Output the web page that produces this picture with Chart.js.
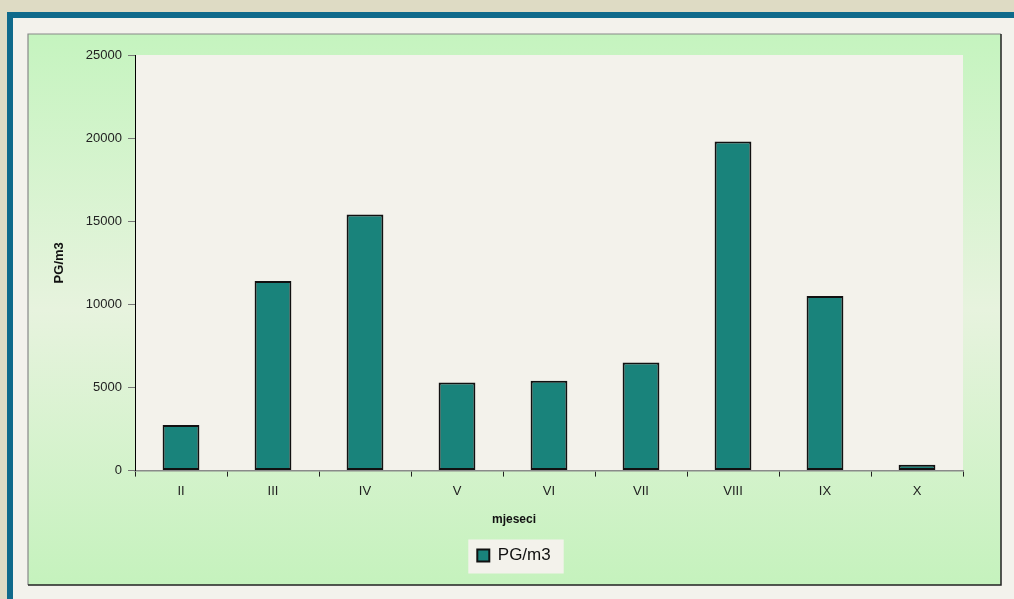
<!DOCTYPE html>
<html>
<head>
<meta charset="utf-8">
<script src="https://cdn.jsdelivr.net/npm/chart.js@4"></script>
<style>
  html, body { margin: 0; padding: 0; background: #f3f2ec; }
  #c { display: block; }
</style>
</head>
<body>
<canvas id="c" width="1014" height="599"></canvas>
<script>
// ---- data ----
const categories = ['II', 'III', 'IV', 'V', 'VI', 'VII', 'VIII', 'IX', 'X'];
const pgValues = [2750, 11400, 15400, 5300, 5400, 6500, 19800, 10500, 350];
const seriesName = 'PG/m3';
const yAxisTitle = 'PG/m3';
const xAxisTitle = 'mjeseci';
const yMin = 0, yMax = 25000, yStep = 5000;

const FONT = '"Liberation Sans", Arial, sans-serif';

const backgroundPlugin = {
  id: 'bgFrame',
  beforeDraw(chart) {
    const ctx = chart.ctx;
    const W = chart.width, H = chart.height;
    ctx.save();
    // outer page
    ctx.fillStyle = '#dedbc4';
    ctx.fillRect(0, 0, W, H);
    // teal frame
    ctx.fillStyle = '#0f6a8b';
    ctx.fillRect(7, 12, W - 7, H - 12);
    // inner off-white
    ctx.fillStyle = '#f3f2ec';
    ctx.fillRect(13, 18, W - 13, H - 18);
    // green box
    const gx = 28, gy = 34, gw = 1001 - 28, gh = 585 - 34;
    const g = ctx.createLinearGradient(0, gy, 0, gy + gh);
    g.addColorStop(0, '#c5f4bf');
    g.addColorStop(0.5, '#e7f3de');
    g.addColorStop(1, '#c5f2bd');
    ctx.fillStyle = g;
    ctx.fillRect(gx, gy, gw, gh);
    ctx.lineWidth = 1.2;
    ctx.strokeStyle = '#888';
    ctx.beginPath();
    ctx.moveTo(gx, gy + gh); ctx.lineTo(gx, gy); ctx.lineTo(gx + gw, gy);
    ctx.stroke();
    ctx.lineWidth = 1.5;
    ctx.strokeStyle = '#222';
    ctx.beginPath();
    ctx.moveTo(gx + gw, gy); ctx.lineTo(gx + gw, gy + gh); ctx.lineTo(gx, gy + gh);
    ctx.stroke();
    // plot area
    const a = chart.chartArea;
    ctx.fillStyle = '#f3f2eb';
    ctx.fillRect(a.left, a.top, a.right - a.left, a.bottom - a.top);
    // legend background
    const lg = chart.legend;
    if (lg && lg.legendHitBoxes && lg.legendHitBoxes.length) {
      const hb = lg.legendHitBoxes[0];
      const cy = hb.top + hb.height / 2;
      ctx.fillStyle = '#f3f2eb';
      ctx.fillRect(hb.left - 9, cy - 16, hb.width + 22, 34);
    }
    ctx.restore();
  }
};

new Chart(document.getElementById('c'), {
  type: 'bar',
  data: {
    labels: categories,
    datasets: [{
      label: seriesName,
      data: pgValues,
      backgroundColor: '#19837b',
      borderColor: '#111',
      borderWidth: 2,
      borderSkipped: false,
      barPercentage: 0.4,
      categoryPercentage: 1.0
    }]
  },
  options: {
    responsive: false,
    animation: false,
    layout: { padding: { left: 28, right: 14, top: 55, bottom: 25 } },
    scales: {
      x: {
        grid: { display: true, drawOnChartArea: false, offset: true, tickLength: 6, color: '#222', lineWidth: 1 },
        border: { display: true, color: '#8a8a8a', width: 1.5 },
        ticks: { color: '#222', font: { family: FONT, size: 13 }, padding: 7, maxRotation: 0 },
        afterFit(s) { s.height = 40; }
      },
      y: {
        min: yMin, max: yMax,
        grid: { display: true, drawOnChartArea: false, tickLength: 7, color: '#777', lineWidth: 1 },
        border: { display: true, color: '#000', width: 1 },
        ticks: {
          stepSize: yStep, color: '#222', font: { family: FONT, size: 13 }, padding: 6,
          format: { useGrouping: false }
        },
        title: { display: true, text: yAxisTitle, color: '#111', font: { family: FONT, size: 13, weight: 'bold' }, padding: { top: 24, bottom: 0 } },
        afterFit(s) { s.width = 107; }
      },
      yR: {
        type: 'linear',
        position: 'right',
        display: true,
        grid: { display: false },
        border: { display: false },
        ticks: { display: false },
        afterFit(s) { s.width = 37; }
      }
    },
    plugins: {
      tooltip: { enabled: false },
      title: {
        display: true,
        position: 'bottom',
        text: xAxisTitle,
        weight: 500,
        color: '#111',
        font: { family: FONT, size: 12, weight: 'bold' },
        padding: { top: 2, bottom: 10 }
      },
      legend: {
        display: true,
        position: 'bottom',
        labels: {
          color: '#111',
          font: { family: FONT, size: 17 },
          boxWidth: 12,
          boxHeight: 12,
          padding: 10
        }
      }
    }
  },
  plugins: [backgroundPlugin]
});
</script>
</body>
</html>
